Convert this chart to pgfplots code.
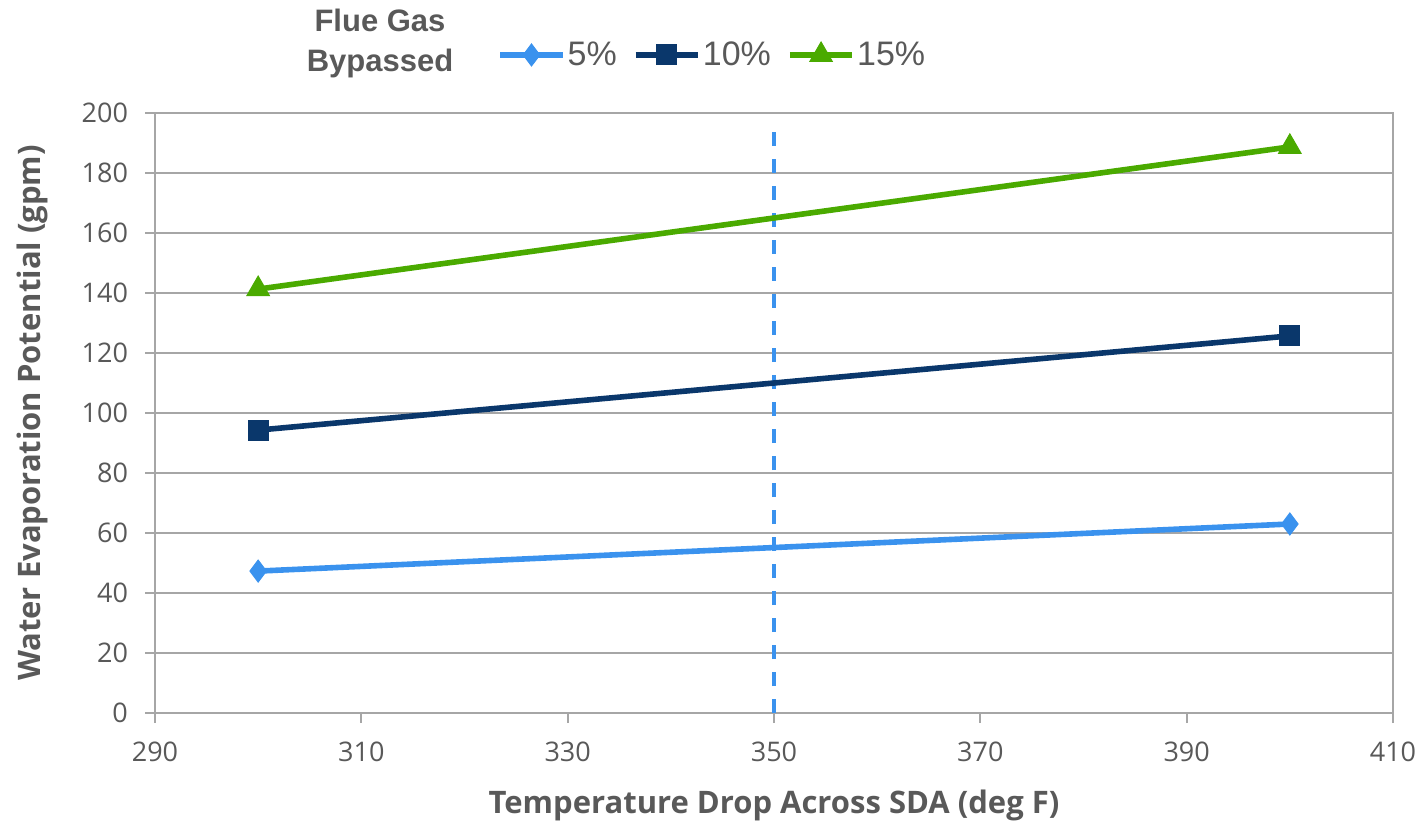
\documentclass[border=0pt]{standalone}
\usepackage{fontspec}
\setmainfont{Open Sans}
\newfontfamily\arialfont{Liberation Sans}
\usepackage{pgfplots}
\pgfplotsset{compat=1.18}
\definecolor{txt}{HTML}{595959}
\definecolor{gridc}{HTML}{A6A6A6}
\definecolor{cfive}{HTML}{3A92EE}
\definecolor{cten}{HTML}{0A376B}
\definecolor{cfifteen}{HTML}{4AAA00}

\begin{document}
\begin{tikzpicture}
\begin{axis}[
  name=ax,
  scale only axis, width=619pt, height=300pt,
  xmin=290, xmax=410, ymin=0, ymax=200,
  xtick={290,310,...,410}, ytick={0,20,...,200},
  xtick pos=bottom, ytick pos=left,
  ymajorgrids, grid style={gridc, line width=1pt},
  axis line style={gridc, line width=1pt},
  tick style={gridc, line width=1pt}, tick align=outside, major tick length=5pt,
  ticklabel style={font=\fontsize{13.5}{13.5}\selectfont, text=txt},
  yticklabel shift=5pt, xticklabel shift=6pt,
  /pgf/number format/assume math mode=true,
  xlabel={Temperature Drop Across SDA (deg F)},
  ylabel={Water Evaporation Potential (gpm)},
  xlabel shift=7pt, ylabel shift=10pt,
  label style={font=\fontsize{15.5}{15.5}\selectfont\bfseries, text=txt},
  legend style={at={([xshift=171pt,yshift=29pt]rel axis cs:0,1)}, anchor=west, draw=none, fill=none,
    legend columns=3, font=\arialfont\fontsize{17}{17}\selectfont, text=txt,
    /tikz/every even column/.append style={column sep=7pt},
    nodes={inner xsep=1pt}, inner sep=0pt, cells={anchor=west}},
  legend image code/.code={\draw[#1, mark repeat=2, mark phase=2] plot coordinates {(0cm,0cm)(0.55cm,0cm)(1.1cm,0cm)};},
]
\addplot[cfive, dashed, line width=2pt, dash pattern=on 7pt off 6.5pt, forget plot] coordinates {(350,0) (350,196)};
\addplot[cfive, line width=2.8pt, mark=diamond*, mark size=5.5pt, mark options={solid, line width=0.5pt}] coordinates {(300,47.3) (400,63)};
\addplot[cten, line width=2.8pt, mark=square*, mark size=5pt, mark options={line width=0.5pt}] coordinates {(300,94.3) (400,125.7)};
\addplot[cfifteen, line width=2.8pt, mark=triangle*, mark size=6.5pt, mark options={line width=0.5pt}] coordinates {(300,141.3) (400,188.7)};
\legend{5\%, 10\%, 15\%}
\end{axis}
\node[align=center, font=\arialfont\fontsize{15.5}{20}\selectfont\bfseries, text=txt] at ([xshift=112.5pt,yshift=35pt]ax.north west) {Flue Gas\\Bypassed};
\pgfresetboundingbox
\path ([xshift=-77.5pt,yshift=-53.5pt]ax.south west) rectangle ([xshift=16pt,yshift=56.5pt]ax.north east);
\end{tikzpicture}
\end{document}
